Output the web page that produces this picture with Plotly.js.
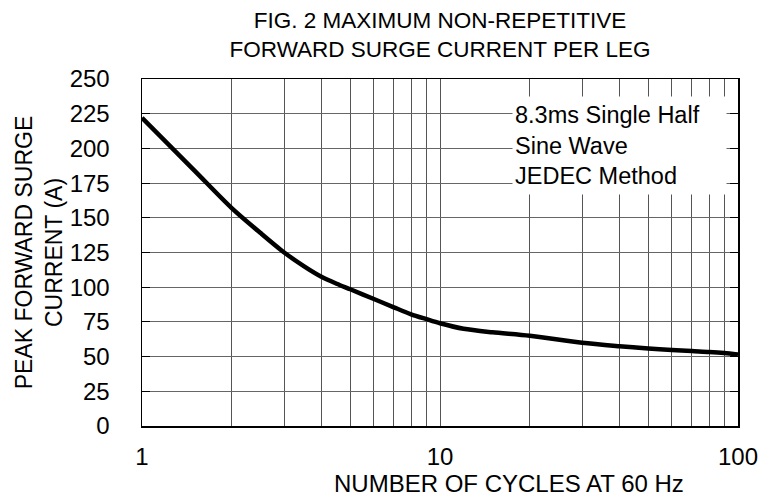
<!DOCTYPE html>
<html>
<head>
<meta charset="utf-8">
<script src="https://cdn.plot.ly/plotly-3.0.1.min.js"></script>
<style>html,body{margin:0;padding:0;background:#fff;}</style>
</head>
<body>
<div id="chart" style="width:770px;height:502px;"></div>
<script>
// Data
var cycles = [1, 1.5, 2, 2.5, 3, 3.5, 4, 4.5, 5, 6, 7, 8, 9, 10, 12, 15, 20, 30, 40, 50, 60, 70, 80, 90, 100];
var surgeCurrent = [222, 184, 157, 139, 125, 115, 107.5, 102.5, 98.5, 91.5, 85.5, 80.5, 77, 74, 70, 67.5, 65, 60, 57.5, 55.8, 54.8, 54, 53.4, 52.6, 51.5];

var xTickVals = [1, 2, 3, 4, 5, 6, 7, 8, 9, 10, 20, 30, 40, 50, 60, 70, 80, 90, 100];
var xTickText = ['1', '', '', '', '', '', '', '', '', '10', '', '', '', '', '', '', '', '', '100'];
var yTickVals = [0, 25, 50, 75, 100, 125, 150, 175, 200, 225, 250];

var titleText = 'FIG. 2 MAXIMUM NON-REPETITIVE<br>FORWARD SURGE CURRENT PER LEG';
var xTitleText = 'NUMBER OF CYCLES AT 60 Hz';
var yTitleText = 'PEAK FORWARD SURGE<br>CURRENT (A)';
var noteText = '8.3ms Single Half<br>Sine Wave<br>JEDEC Method';

var FONT = 'Arial, "Liberation Sans", sans-serif';

var trace = {
  x: cycles,
  y: surgeCurrent,
  type: 'scatter',
  mode: 'lines',
  line: {color: '#000', width: 4.5, shape: 'spline', smoothing: 0.8},
  hoverinfo: 'none'
};

var layout = {
  width: 770,
  height: 502,
  margin: {l: 142, r: 32, t: 79, b: 76, pad: 0},
  paper_bgcolor: '#fff',
  plot_bgcolor: '#fff',
  showlegend: false,
  font: {family: FONT, size: 22, color: '#000'},
  title: {
    text: titleText,
    font: {family: FONT, size: 22.5, color: '#000'},
    xref: 'paper', x: 0.5, xanchor: 'center',
    yref: 'container', y: 1 - 28 / 502, yanchor: 'middle'
  },
  xaxis: {
    type: 'log',
    range: [0, 2],
    tickmode: 'array',
    tickvals: xTickVals,
    ticktext: xTickText,
    ticks: 'inside',
    ticklen: 0,
    showgrid: true,
    gridcolor: '#555',
    gridwidth: 1,
    showline: true,
    linecolor: '#000',
    linewidth: 1.5,
    mirror: true,
    zeroline: false,
    ticklabelstandoff: 9,
    tickfont: {family: FONT, size: 24, color: '#000'}
  },
  yaxis: {
    range: [0, 250],
    tickmode: 'array',
    tickvals: yTickVals,
    ticks: 'inside',
    ticklen: 8,
    tickcolor: '#000',
    tickwidth: 1,
    showgrid: true,
    gridcolor: '#666',
    gridwidth: 1,
    showline: true,
    linecolor: '#000',
    linewidth: 1.5,
    mirror: 'allticks',
    zeroline: false,
    ticklabelstandoff: 26,
    tickfont: {family: FONT, size: 24, color: '#000'},
    title: {
      text: yTitleText,
      font: {family: FONT, size: 23, color: '#000'},
      standoff: 0
    },
    automargin: false
  },
  annotations: [
    {
      text: noteText,
      xref: 'paper', yref: 'paper',
      x: (512 - 142) / 596, xanchor: 'left',
      y: (426 - 96) / 347, yanchor: 'top',
      align: 'left',
      valign: 'middle',
      width: 209,
      height: 93,
      borderpad: 2,
      bgcolor: '#fff',
      showarrow: false,
      font: {family: FONT, size: 23.5, color: '#000'}
    },
    {
      text: xTitleText,
      xref: 'paper', yref: 'paper',
      x: (509 - 142) / 596, xanchor: 'center',
      y: -(468 - 426) / 347, yanchor: 'top',
      showarrow: false,
      font: {family: FONT, size: 24, color: '#000'}
    }
  ]
};

Plotly.newPlot('chart', [trace], layout, {staticPlot: true, displayModeBar: false});
</script>
</body>
</html>
